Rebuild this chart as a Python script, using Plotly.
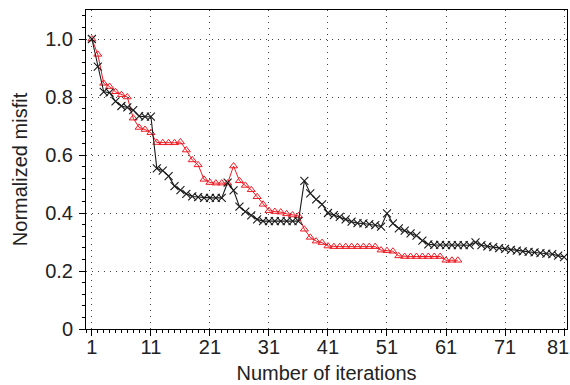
import plotly.graph_objects as go

# Normalized misfit per iteration for the two inversion runs
black_misfit = [
    1.000, 0.905, 0.818, 0.815, 0.785, 0.769, 0.764, 0.755, 0.734, 0.732,
    0.732, 0.554, 0.546, 0.527, 0.493, 0.479, 0.466, 0.457, 0.455, 0.452,
    0.452, 0.452, 0.452, 0.505, 0.478, 0.422, 0.405, 0.392, 0.378, 0.372,
    0.372, 0.372, 0.372, 0.372, 0.372, 0.372, 0.511, 0.468, 0.447, 0.430,
    0.400, 0.393, 0.387, 0.378, 0.370, 0.365, 0.364, 0.362, 0.358, 0.353,
    0.399, 0.364, 0.347, 0.339, 0.330, 0.322, 0.305, 0.292, 0.290, 0.290,
    0.289, 0.289, 0.289, 0.289, 0.289, 0.299, 0.289, 0.285, 0.282, 0.279,
    0.276, 0.273, 0.270, 0.268, 0.266, 0.264, 0.262, 0.260, 0.258, 0.253,
    0.248,
]
red_misfit = [
    1.000, 0.947, 0.847, 0.836, 0.818, 0.808, 0.800, 0.727, 0.695, 0.688,
    0.677, 0.643, 0.642, 0.642, 0.642, 0.645, 0.617, 0.583, 0.566, 0.516,
    0.505, 0.503, 0.503, 0.503, 0.562, 0.511, 0.495, 0.480, 0.456, 0.430,
    0.408, 0.405, 0.403, 0.397, 0.393, 0.390, 0.344, 0.316, 0.303, 0.298,
    0.286, 0.284, 0.284, 0.284, 0.284, 0.284, 0.284, 0.284, 0.284, 0.272,
    0.270, 0.268, 0.252, 0.250, 0.250, 0.250, 0.250, 0.250, 0.250, 0.250,
    0.237, 0.237, 0.237,
]
black_iter = list(range(1, len(black_misfit) + 1))
red_iter = list(range(1, len(red_misfit) + 1))

x_ticks = [1, 11, 21, 31, 41, 51, 61, 71, 81]
y_ticks = [0, 0.2, 0.4, 0.6, 0.8, 1.0]
y_tick_text = ["0", "0.2", "0.4", "0.6", "0.8", "1.0"]

# the last x label sits at the page edge, so it is placed as an annotation
# anchored to its tick and nudged inward
x_tick_text = [str(v) for v in x_ticks[:-1]] + [""]
last_x_label = str(x_ticks[-1])

RED = "#ee1c25"
BLACK = "#1a1a1a"
FONT = "Liberation Sans, Arial, sans-serif"
TICK_FONT = dict(size=20, color="#222", family=FONT)

fig = go.Figure()
fig.add_trace(go.Scatter(
    x=red_iter, y=red_misfit, mode="lines+markers",
    line=dict(color=RED, width=1),
    marker=dict(symbol="triangle-up-open", size=7, color=RED,
                line=dict(color=RED, width=1)),
    showlegend=False,
))
fig.add_trace(go.Scatter(
    x=black_iter, y=black_misfit, mode="lines+markers",
    line=dict(color=BLACK, width=1.1),
    marker=dict(symbol="x-thin", size=8, color=BLACK,
                line=dict(color=BLACK, width=1.1)),
    showlegend=False,
))

grid = dict(showgrid=True, gridcolor="#444", gridwidth=1, griddash="1px,5px")

fig.update_xaxes(
    range=[0, 81.5], tickmode="array", tickvals=x_ticks, ticktext=x_tick_text,
    ticks="outside", ticklen=6, tickwidth=1, tickcolor="black",
    minor=dict(tickmode="linear", tick0=0, dtick=1, ticks="outside",
               ticklen=3, tickcolor="black", showgrid=False),
    showline=True, linecolor="black", linewidth=1, mirror=True,
    zeroline=False, ticklabeloverflow="allow", ticklabelstandoff=-6,
    automargin=False,
    title=dict(text="Number of iterations", standoff=8,
               font=dict(size=20, color="#222", family=FONT)),
    tickfont=TICK_FONT,
    **grid,
)
fig.update_yaxes(
    range=[0, 1.1], tickmode="array", tickvals=y_ticks, ticktext=y_tick_text,
    ticks="outside", ticklen=6, tickwidth=1, tickcolor="black",
    minor=dict(tickmode="linear", tick0=0, dtick=0.04, ticks="outside",
               ticklen=3, tickcolor="black", showgrid=False),
    showline=True, linecolor="black", linewidth=1, mirror=True,
    zeroline=False, ticklabelstandoff=2, automargin=False,
    title=dict(text="Normalized misfit", standoff=12,
               font=dict(size=20, color="#222", family=FONT)),
    tickfont=TICK_FONT,
    **grid,
)

fig.add_annotation(
    x=x_ticks[-1], xref="x", y=0, yref="paper",
    text=last_x_label, showarrow=False, font=TICK_FONT,
    xanchor="center", yanchor="middle", xshift=-6, yshift=-18,
)

fig.update_layout(
    width=570, height=385,
    margin=dict(l=86, r=3, t=10, b=56),
    paper_bgcolor="white", plot_bgcolor="white",
    font=dict(family=FONT),
)

fig.write_html("out.html")
